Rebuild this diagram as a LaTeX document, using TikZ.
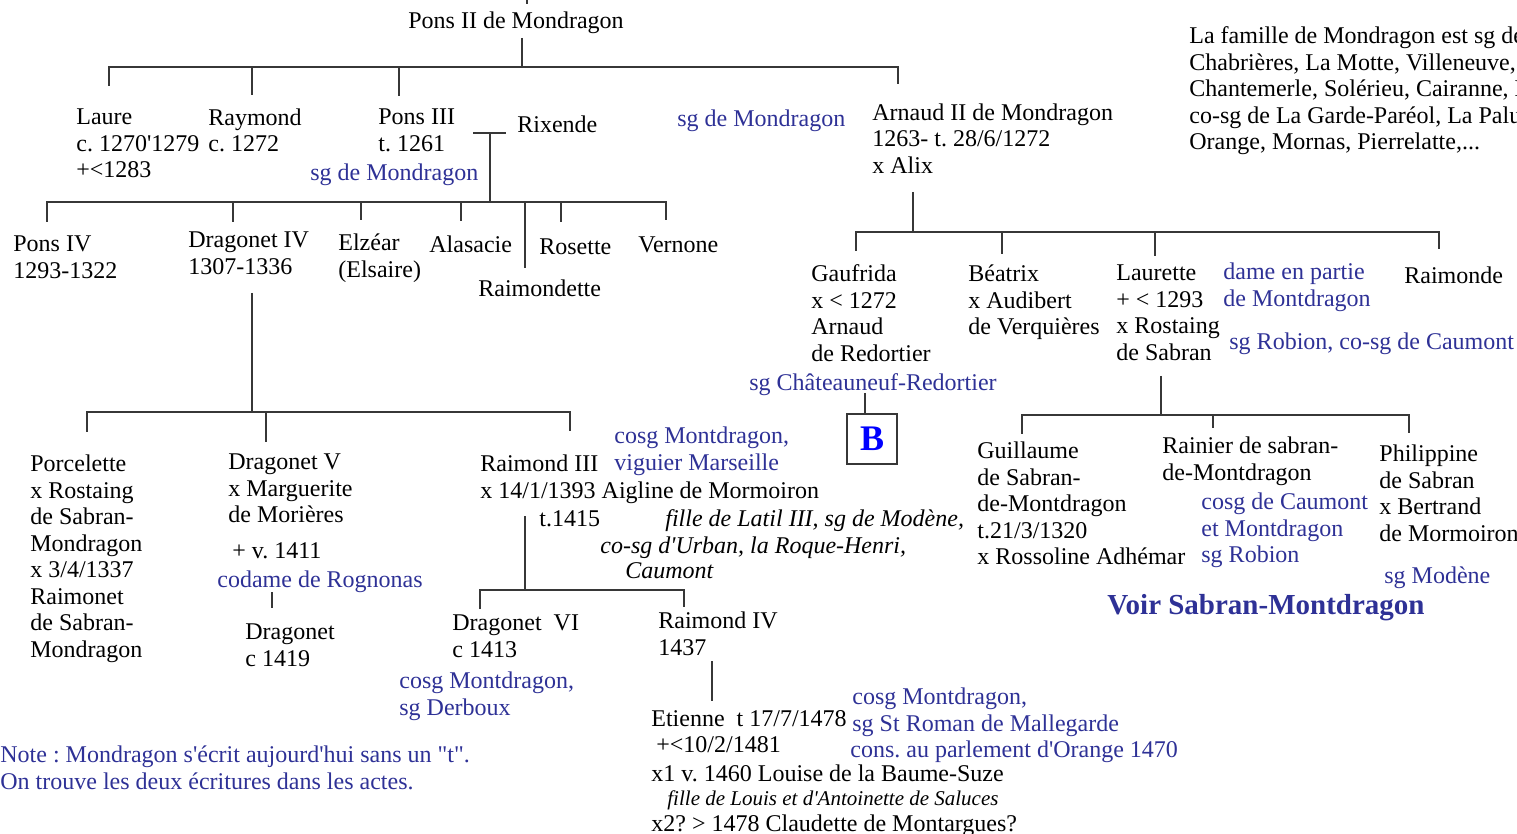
\documentclass[tikz,border=0pt]{standalone}
\usepackage{fontspec}
\setmainfont{Liberation Serif}[Ligatures=TeXOff]
\definecolor{txtblue}{RGB}{46,49,150}
\definecolor{linegray}{RGB}{55,55,55}
\newcommand{\fsn}{\fontsize{12}{13.25}\selectfont}
\newcommand{\fsi}{\fontsize{12}{13.25}\selectfont\itshape}
\newcommand{\fss}{\fontsize{10.5}{13.25}\selectfont\itshape}
\frenchspacing
\begin{document}
\begin{tikzpicture}[x=0.5pt,y=-0.5pt,
  ppl/.style={anchor=north west, inner sep=0pt, align=left, font=\fsn\frenchspacing, yshift=7.275pt, execute at begin node=\strut},
  bl/.style={ppl, text=txtblue},
  itl/.style={ppl, font=\fsi\frenchspacing},
  its/.style={ppl, font=\fss\frenchspacing},
  ln/.style={draw=linegray, line width=1pt}]
\path[use as bounding box] (0,0) rectangle (1517,834);
\clip (0,0) rectangle (1517,834);

% ---------- text nodes ----------
\node[ppl] (pons2) at (408,24) {Pons II de Mondragon};
\node[ppl] (laure) at (76,123) {Laure\\c. 1270'1279\\+<1283};
\node[ppl] (raymond) at (208,123) {Raymond\\c. 1272};
\node[ppl] (pons3) at (378,123) {Pons III\\t. 1261};
\node[bl] (pons3sg) at (310,176) {sg de Mondragon};
\node[ppl] (rixende) at (517,128) {Rixende};
\node[bl] (arnsg) at (677,122) {sg de Mondragon};
\node[ppl] (arnaud) at (872,118) {Arnaud II de Mondragon\\1263- t. 28/6/1272\\x Alix};
\node[ppl] (famille) at (1189,41) {La famille de Mondragon est sg de\\Chabrières, La Motte, Villeneuve, La\\Chantemerle, Solérieu, Cairanne, L\\co-sg de La Garde-Paréol, La Palud\\Orange, Mornas, Pierrelatte,...};

\node[ppl] (pons4) at (13,250) {Pons IV\\1293-1322};
\node[ppl] (drag4) at (188,246) {Dragonet IV\\1307-1336};
\node[ppl] (elzear) at (338,248) {Elzéar\\(Elsaire)};
\node[ppl] (alasacie) at (429,248) {Alasacie};
\node[ppl] (rosette) at (539,250) {Rosette};
\node[ppl] (vernone) at (638,248) {Vernone};
\node[ppl] (raimondette) at (478,292) {Raimondette};

\node[ppl] (gaufrida) at (811,279) {Gaufrida\\x < 1272\\Arnaud\\de Redortier};
\node[bl] (gausg) at (749,386) {sg Châteauneuf-Redortier};
\node[ppl] (beatrix) at (968,279) {Béatrix\\x Audibert\\de Verquières};
\node[ppl] (laurette) at (1116,279) {Laurette\\+ < 1293\\x Rostaing\\de Sabran};
\node[bl] (dame) at (1223,277) {dame en partie\\de Montdragon};
\node[ppl] (raimonde) at (1404,279) {Raimonde};
\node[bl] (robion) at (1229,345) {sg Robion, co-sg de Caumont};
\node[draw=linegray, line width=1pt, minimum width=25pt, minimum height=25pt, inner sep=0pt,
      anchor=north west, text=blue, font=\fontsize{18}{20}\selectfont\bfseries] (B) at (846,413) {B};

\node[ppl] (porcelette) at (30,469) {Porcelette\\x Rostaing\\de Sabran-\\Mondragon\\x 3/4/1337\\Raimonet\\de Sabran-\\Mondragon};
\node[ppl] (drag5) at (228,468) {Dragonet V\\x Marguerite\\de Morières};
\node[ppl] (drag5d) at (232,554) {+ v. 1411};
\node[bl] (drag5sg) at (217,583) {codame de Rognonas};
\node[ppl] (dragonet) at (245,638) {Dragonet\\c 1419};
\node[bl] (raim3sg) at (614,441) {cosg Montdragon,\\viguier Marseille};
\node[ppl] (raim3) at (480,469) {Raimond III\\x 14/1/1393 Aigline de Mormoiron};
\node[ppl] (raim3t) at (539,522) {t.1415};
\node[itl] (aig1) at (665,522) {fille de Latil III, sg de Modène,};
\node[itl] (aig2) at (600,549) {co-sg d'Urban, la Roque-Henri,};
\node[itl] (aig3) at (625,574) {Caumont};

\node[ppl] (guillaume) at (977,456) {Guillaume\\de Sabran-\\de-Montdragon\\t.21/3/1320\\x Rossoline Adhémar};
\node[ppl] (rainier) at (1162,451) {Rainier de sabran-\\de-Montdragon};
\node[bl] (rainsg) at (1201,507) {cosg de Caumont\\et Montdragon\\sg Robion};
\node[ppl] (philippine) at (1379,459) {Philippine\\de Sabran\\x Bertrand\\de Mormoiron};
\node[bl] (philsg) at (1384,579) {sg Modène};
\node[anchor=base west, inner sep=0pt, text=txtblue, font=\fontsize{14.5}{16}\selectfont\bfseries] (voir) at (1107,614) {Voir Sabran-Montdragon};

\node[ppl] (drag6) at (452,629) {Dragonet~~VI\\c 1413};
\node[ppl] (raim4) at (658,626) {Raimond IV\\1437};
\node[bl] (drag6sg) at (399,686) {cosg Montdragon,\\sg Derboux};
\node[ppl] (etienne) at (651,722) {Etienne~~t 17/7/1478};
\node[ppl] (etienne2) at (656,748) {+<10/2/1481};
\node[ppl] (etienne3) at (651,777) {x1 v. 1460 Louise de la Baume-Suze};
\node[its] (etienne4) at (667,801) {fille de Louis et d'Antoinette de Saluces};
\node[ppl] (etienne5) at (651,827) {x2? > 1478 Claudette de Montargues?};
\node[bl] (etsg) at (852,702) {cosg Montdragon,\\sg St Roman de Mallegarde};
\node[bl] (etsg3) at (850,753) {cons. au parlement d'Orange 1470};
\node[bl] (note) at (0,760) {Note : Mondragon s'écrit aujourd'hui sans un "t".\\On trouve les deux écritures dans les actes.};

% ---------- coordinates ----------
\coordinate (top0) at (527,0);  \coordinate (top1) at (527,4);
\coordinate (p2a) at (522,38);  \coordinate (p2b) at (522,67);
\coordinate (b1l) at (109,67);  \coordinate (b1r) at (898,67);
\coordinate (d1a) at (109,86);  \coordinate (d1b0) at (252,67); \coordinate (d1b) at (252,95);
\coordinate (d1c0) at (399,67); \coordinate (d1c) at (399,96);  \coordinate (d1d) at (898,84);

\coordinate (m3l) at (473,133); \coordinate (m3r) at (506,133);
\coordinate (m3a) at (490,133); \coordinate (m3b) at (490,202);
\coordinate (b2l) at (46.5,202); \coordinate (b2r) at (665.5,202);
\coordinate (d2a) at (46.5,222);
\coordinate (d2b0) at (233,202); \coordinate (d2b) at (233,222);
\coordinate (d2c0) at (361,202); \coordinate (d2c) at (361,220);
\coordinate (d2d0) at (461,202); \coordinate (d2d) at (461,221);
\coordinate (d2e0) at (525,202); \coordinate (d2e) at (525,268);
\coordinate (d2f0) at (561,202); \coordinate (d2f) at (561,222);
\coordinate (d2g) at (665.5,220);

\coordinate (g4a) at (252,293); \coordinate (g4b) at (252,412);
\coordinate (b3l) at (87,412);  \coordinate (b3r) at (569.6,412);
\coordinate (d3a) at (87,432);  \coordinate (d3b0) at (266,412); \coordinate (d3b) at (266,442);
\coordinate (d3c) at (569.6,431);

\coordinate (g5a) at (271.5,592); \coordinate (g5b) at (271.5,608);

\coordinate (r3a) at (525,516); \coordinate (r3b) at (525,590);
\coordinate (b4l) at (480,590); \coordinate (b4r) at (683.5,590);
\coordinate (d4a) at (480,609); \coordinate (d4b) at (683.5,607);

\coordinate (r4a) at (711.6,661); \coordinate (r4b) at (711.6,701);

\coordinate (a2a) at (912.5,192); \coordinate (a2b) at (912.5,232);
\coordinate (b5l) at (855.5,232); \coordinate (b5r) at (1438.7,232);
\coordinate (d5a) at (855.5,251);
\coordinate (d5b0) at (1001.6,232); \coordinate (d5b) at (1001.6,254);
\coordinate (d5c0) at (1155,232); \coordinate (d5c) at (1155,256);
\coordinate (d5d) at (1438.7,249);

\coordinate (gB) at (865,393);

\coordinate (la) at (1161,376); \coordinate (lb) at (1161,415);
\coordinate (b6l) at (1022,415); \coordinate (b6r) at (1408.8,415);
\coordinate (d6a) at (1022,434); \coordinate (d6b0) at (1213,415); \coordinate (d6b) at (1213,428);
\coordinate (d6c) at (1408.8,433);

% ---------- connectors ----------
\draw[ln] (top0) -- (top1);
\draw[ln] (p2a) -- (p2b);
\draw[ln] (d1a) -- (b1l) -- (b1r) -- (d1d);
\draw[ln] (d1b0) -- (d1b);
\draw[ln] (d1c0) -- (d1c);

\draw[ln] (m3l) -- (m3r);
\draw[ln] (m3a) -- (m3b);
\draw[ln] (d2a) -- (b2l) -- (b2r) -- (d2g);
\draw[ln] (d2b0) -- (d2b);
\draw[ln] (d2c0) -- (d2c);
\draw[ln] (d2d0) -- (d2d);
\draw[ln] (d2e0) -- (d2e);
\draw[ln] (d2f0) -- (d2f);

\draw[ln] (g4a) -- (g4b);
\draw[ln] (d3a) -- (b3l) -- (b3r) -- (d3c);
\draw[ln] (d3b0) -- (d3b);

\draw[ln] (g5a) -- (g5b);

\draw[ln] (r3a) -- (r3b);
\draw[ln] (d4a) -- (b4l) -- (b4r) -- (d4b);

\draw[ln] (r4a) -- (r4b);

\draw[ln] (a2a) -- (a2b);
\draw[ln] (d5a) -- (b5l) -- (b5r) -- (d5d);
\draw[ln] (d5b0) -- (d5b);
\draw[ln] (d5c0) -- (d5c);

\draw[ln] (gB) -- (gB |- B.north);

\draw[ln] (la) -- (lb);
\draw[ln] (d6a) -- (b6l) -- (b6r) -- (d6c);
\draw[ln] (d6b0) -- (d6b);
\end{tikzpicture}
\end{document}
